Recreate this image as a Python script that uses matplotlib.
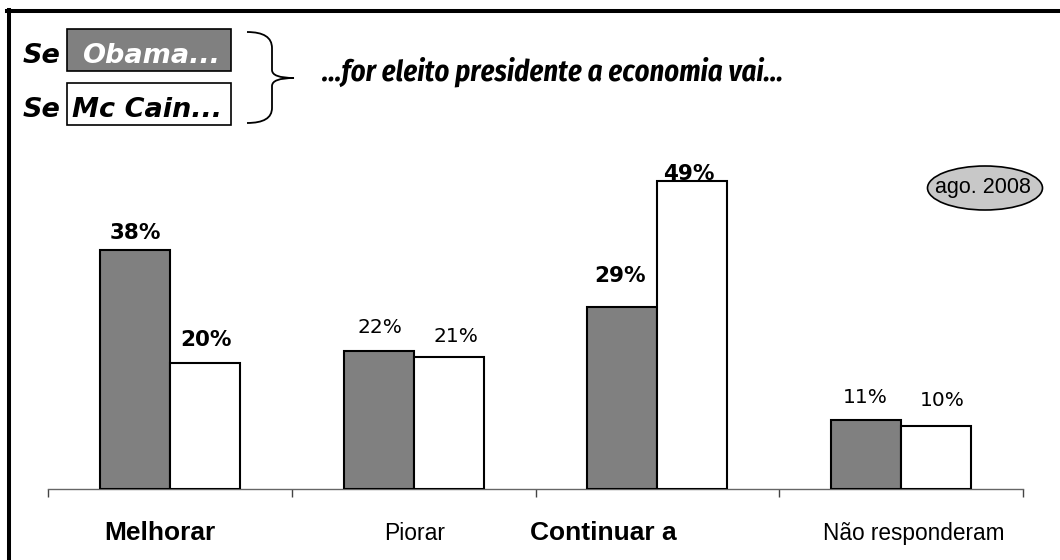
import matplotlib
matplotlib.use('Agg')
import matplotlib.pyplot as plt
from matplotlib.patches import Rectangle, Ellipse, PathPatch
from matplotlib.path import Path
from matplotlib.lines import Line2D

# data
categories = ['Melhorar', 'Piorar', 'Continuar a', 'Não responderam']
obama = [38, 22, 29, 11]
mccain = [20, 21, 49, 10]
obama_labels = ['38%', '22%', '29%', '11%']
mccain_labels = ['20%', '21%', '49%', '10%']
bold_cat = [True, False, True, False]

HEAD_FAM = ['DejaVu Sans']
TITLE_FAM = ['Fira Sans Condensed', 'DejaVu Sans']
CAT_FAM = ['Liberation Sans', 'DejaVu Sans']

W, H = 1060, 560
fig = plt.figure(figsize=(W / 100, H / 100), dpi=100)


def fx(px):
    return px / W


def fy(py):
    return 1 - py / H


ax = fig.add_axes([fx(48), fy(489), fx(1023) - fx(48), (55 * 6.29) / H])

n = len(categories)
bw = 0.287
xs = list(range(n))
ax.bar([x - bw / 2 for x in xs], obama, bw, color='#808080', edgecolor='black', linewidth=1.5, zorder=3)
ax.bar([x + bw / 2 for x in xs], mccain, bw, color='white', edgecolor='black', linewidth=1.5, zorder=3)

ax.set_xlim(-0.5, n - 0.5)
ax.set_ylim(0, 55)
for s in ['left', 'top', 'right']:
    ax.spines[s].set_visible(False)
ax.spines['bottom'].set_color('#666666')
ax.spines['bottom'].set_linewidth(1.0)
ax.set_yticks([])
ax.set_xticks([x - 0.5 for x in range(n + 1)])
ax.set_xticklabels([])
ax.tick_params(axis='x', direction='out', length=5.5, color='#444444', width=1.0)

# value labels (offsets in points from bar top, style only)
ob_off = [(0, 7.7), (0.7, 12.7), (-1.8, 18), (-0.7, 12.2)]
mc_off = [(1, 12.2), (5, 10.8), (-2.5, 0.7), (4.7, 14.4)]
for i in range(n):
    w = 'bold' if bold_cat[i] else 'normal'
    sz = 15.5 if bold_cat[i] else 14.5
    ax.annotate(obama_labels[i], (xs[i] - bw / 2, obama[i]), xytext=ob_off[i],
                textcoords='offset points', ha='center', va='baseline',
                fontsize=sz, fontweight=w, family='DejaVu Sans', zorder=5)
    ax.annotate(mccain_labels[i], (xs[i] + bw / 2, mccain[i]), xytext=mc_off[i],
                textcoords='offset points', ha='center', va='baseline',
                fontsize=sz, fontweight=w, family='DejaVu Sans', zorder=5)

# category labels
cat_shift = [-0.04, 0.006, -0.22, 0.053]
cat_size = [19, 16.5, 19, 16.3]
for i, c in enumerate(categories):
    ax.text(xs[i] + cat_shift[i], -0.1474, c, transform=ax.get_xaxis_transform(),
            ha='center', va='baseline', fontsize=cat_size[i],
            fontweight='bold' if bold_cat[i] else 'normal', family=CAT_FAM)

# figure border (left and top)
fig.add_artist(Line2D([fx(9), fx(9)], [fy(9.5), 0], color='black', lw=2.9, transform=fig.transFigure))
fig.add_artist(Line2D([fx(7), 1], [fy(11.3), fy(11.3)], color='black', lw=2.9, transform=fig.transFigure))

# header legend
fig.add_artist(Rectangle((fx(67), fy(71)), fx(164), 42 / H, facecolor='#808080', edgecolor='black',
                         lw=1.2, transform=fig.transFigure))
fig.add_artist(Rectangle((fx(67), fy(125)), fx(164), 42 / H, facecolor='white', edgecolor='black',
                         lw=1.2, transform=fig.transFigure))
fig.text(fx(23), fy(63), 'Se', fontsize=19.5, fontweight='bold', style='italic', va='baseline', family=HEAD_FAM)
fig.text(fx(23), fy(117), 'Se', fontsize=19.5, fontweight='bold', style='italic', va='baseline', family=HEAD_FAM)
fig.text(fx(82), fy(63), 'Obama...', fontsize=19.5, style='italic', color='white', va='baseline',
         family=HEAD_FAM, fontweight='bold')
fig.text(fx(72), fy(117), 'Mc Cain...', fontsize=19.5, fontweight='bold', style='italic', va='baseline',
         family=HEAD_FAM)

# brace
pts = [(247, 32), (272, 32), (272, 48), (272, 70), (272, 70), (272, 78), (294, 78),
       (272, 78), (272, 86), (272, 108), (272, 108), (272, 123), (247, 123)]
codes = [Path.MOVETO, Path.CURVE3, Path.CURVE3, Path.LINETO, Path.LINETO, Path.CURVE3, Path.CURVE3,
         Path.CURVE3, Path.CURVE3, Path.LINETO, Path.LINETO, Path.CURVE3, Path.CURVE3]
brace = Path([(fx(x), fy(y)) for x, y in pts], codes)
fig.add_artist(PathPatch(brace, facecolor='none', edgecolor='black', lw=1.3, transform=fig.transFigure))

fig.text(fx(322), fy(72), '...for eleito presidente a economia vai...', fontsize=20.5, fontweight='bold',
         style='italic', va='center', ha='left', family=TITLE_FAM)

# date badge
fig.add_artist(Ellipse((fx(985), fy(188)), fx(115), 44 / H, facecolor='#c8c8c8', edgecolor='black',
                       lw=1.2, transform=fig.transFigure))
fig.text(fx(983), fy(193), 'ago. 2008', fontsize=15.5, ha='center', va='baseline',
         family=['Liberation Sans', 'DejaVu Sans'])

fig.savefig('out.png', dpi=100)
